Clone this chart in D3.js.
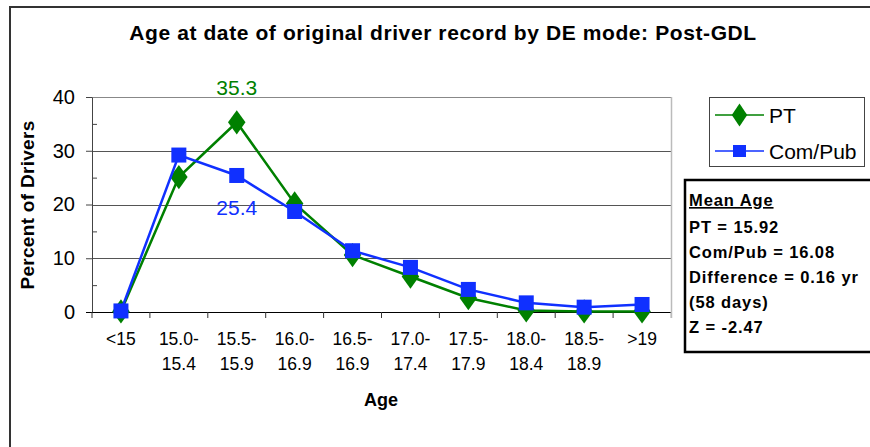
<!DOCTYPE html>
<html>
<head>
<meta charset="utf-8">
<script src="https://cdn.jsdelivr.net/npm/d3@7"></script>
<style>
  body { margin: 0; background: #fff; }
  svg { display: block; font-family: Arial, "Liberation Sans", sans-serif; }
</style>
</head>
<body>
<svg width="870" height="447"></svg>
<script>
// chart data
var categories = ["<15", "15.0-15.4", "15.5-15.9", "16.0-16.9", "16.5-16.9", "17.0-17.4", "17.5-17.9", "18.0-18.4", "18.5-18.9", ">19"];
var tickLabels = [["<15"], ["15.0-", "15.4"], ["15.5-", "15.9"], ["16.0-", "16.9"], ["16.5-", "16.9"], ["17.0-", "17.4"], ["17.5-", "17.9"], ["18.0-", "18.4"], ["18.5-", "18.9"], [">19"]];
var ptValues = [0.1, 25.1, 35.3, 20.2, 10.6, 6.6, 2.6, 0.3, 0.1, 0.1];
var comPubValues = [0.2, 29.2, 25.4, 18.7, 11.4, 8.3, 4.2, 1.7, 0.9, 1.4];
var yTicks = [0, 10, 20, 30, 40];
var yMinorTicks = [5, 15, 25, 35];
var seriesNames = ["PT", "Com/Pub"];
var statsLines = ["Mean Age", "PT = 15.92", "Com/Pub = 16.08", "Difference = 0.16 yr", "(58 days)", "Z = -2.47"];

var green = "#008000";
var blue = "#1030ff";

var svg = d3.select("svg");

// outer frame (runs off the right and bottom edge)
svg.append("path")
    .attr("d", "M10,460 L10,7 L880,7")
    .attr("fill", "none")
    .attr("stroke", "#333")
    .attr("stroke-width", 2);

svg.append("text")
    .attr("x", 443).attr("y", 40)
    .attr("text-anchor", "middle")
    .attr("font-size", "21px")
    .attr("font-weight", "bold")
    .attr("letter-spacing", "0.6px")
    .text("Age at date of original driver record by DE mode: Post-GDL");

var x = d3.scaleBand().domain(categories).range([92, 671]).padding(0);
var y = d3.scaleLinear().domain([0, 40]).range([312, 97]);
var cx = function (d, i) { return x(categories[i]) + x.bandwidth() / 2; };

// gridlines
svg.append("g").selectAll("line")
    .data(yTicks.filter(function (d) { return d > 0; }))
    .enter().append("line")
    .attr("x1", 92).attr("x2", 671)
    .attr("y1", function (d) { return Math.round(y(d)) + 0.5; })
    .attr("y2", function (d) { return Math.round(y(d)) + 0.5; })
    .attr("stroke", function (d) { return d === 40 ? "#888" : "#555"; })
    .attr("stroke-width", 1);

// plot right border
svg.append("line")
    .attr("x1", 671.5).attr("x2", 671.5).attr("y1", 97).attr("y2", 318)
    .attr("stroke", "#bbb").attr("stroke-width", 1.5);

// y axis
var yAxis = svg.append("g")
    .attr("transform", "translate(92,0)")
    .call(d3.axisLeft(y).tickValues(yTicks).tickSize(6).tickSizeOuter(0));
yAxis.select(".domain").attr("stroke", "#444");
yAxis.selectAll(".tick line").attr("stroke", "#444");
yAxis.selectAll(".tick text")
    .attr("x", -17)
    .attr("font-size", "20px")
    .attr("font-family", "Arial, 'Liberation Sans', sans-serif")
    .attr("fill", "#000");

svg.append("g")
    .attr("transform", "translate(92,0)")
    .call(d3.axisRight(y).tickValues(yMinorTicks).tickSize(5).tickFormat(""))
    .call(function (g) { g.select(".domain").remove(); })
    .selectAll(".tick line").attr("stroke", "#444");

// x axis line and ticks at band edges
svg.append("line")
    .attr("x1", 86).attr("x2", 671).attr("y1", 312.5).attr("y2", 312.5)
    .attr("stroke", "#000").attr("stroke-width", 1.2);
svg.append("g").selectAll("line")
    .data(categories.concat(["end"]))
    .enter().append("line")
    .attr("x1", function (d, i) { return i < categories.length ? x(d) : x.range()[1]; })
    .attr("x2", function (d, i) { return i < categories.length ? x(d) : x.range()[1]; })
    .attr("y1", 312).attr("y2", 318)
    .attr("stroke", function (d, i) { return i < categories.length ? "#333" : "#bbb"; });

var xt = svg.append("g").selectAll("text")
    .data(tickLabels)
    .enter().append("text")
    .attr("text-anchor", "middle")
    .attr("font-size", "17.5px");
xt.selectAll("tspan")
    .data(function (d, i) { return d.map(function (s) { return { s: s, i: i }; }); })
    .enter().append("tspan")
    .attr("x", function (d) { return cx(null, d.i); })
    .attr("y", function (d, j) { return 345 + j * 25; })
    .text(function (d) { return d.s; });

// axis titles
svg.append("text")
    .attr("x", 381).attr("y", 406)
    .attr("text-anchor", "middle")
    .attr("font-size", "18px").attr("font-weight", "bold")
    .text("Age");
svg.append("text")
    .attr("transform", "translate(34,205) rotate(-90)")
    .attr("text-anchor", "middle")
    .attr("font-size", "19px").attr("font-weight", "bold")
    .attr("letter-spacing", "0.3px")
    .text("Percent of Drivers");

// series lines
var line = d3.line().x(cx).y(function (d) { return y(d); });
var diamond = d3.symbol().type(d3.symbolDiamond).size(170);

svg.append("path").datum(ptValues)
    .attr("d", line).attr("fill", "none")
    .attr("stroke", green).attr("stroke-width", 2.5);
svg.append("g").selectAll("path")
    .data(ptValues).enter().append("path")
    .attr("d", diamond)
    .attr("transform", function (d, i) { return "translate(" + cx(d, i) + "," + y(d) + ") scale(1.25,1)"; })
    .attr("fill", green);

svg.append("path").datum(comPubValues)
    .attr("d", line).attr("fill", "none")
    .attr("stroke", blue).attr("stroke-width", 2.5);
svg.append("g").selectAll("rect")
    .data(comPubValues).enter().append("rect")
    .attr("x", function (d, i) { return cx(d, i) - 7.5; })
    .attr("y", function (d) { return y(d) - 7.5; })
    .attr("width", 15).attr("height", 15)
    .attr("fill", blue);

// data labels
svg.append("text")
    .attr("x", cx(null, 2)).attr("y", y(ptValues[2]) - 27)
    .attr("text-anchor", "middle").attr("font-size", "21px")
    .attr("fill", green).text(ptValues[2].toFixed(1));
svg.append("text")
    .attr("x", cx(null, 2)).attr("y", y(comPubValues[2]) + 40)
    .attr("text-anchor", "middle").attr("font-size", "21px")
    .attr("fill", blue).text(comPubValues[2].toFixed(1));

// legend
var legend = svg.append("g");
legend.append("rect")
    .attr("x", 709.5).attr("y", 97.5).attr("width", 155).attr("height", 69)
    .attr("fill", "#fff").attr("stroke", "#444").attr("stroke-width", 1);
var item = legend.selectAll("g.item")
    .data(seriesNames).enter().append("g")
    .attr("class", "item")
    .attr("transform", function (d, i) { return "translate(0," + (115 + i * 36) + ")"; });
item.append("line")
    .attr("x1", 715).attr("x2", 764).attr("y1", 0).attr("y2", 0)
    .attr("stroke", function (d, i) { return i === 0 ? green : blue; })
    .attr("stroke-width", 1.5);
item.each(function (d, i) {
    var g = d3.select(this);
    if (i === 0) {
        g.append("path").attr("d", diamond)
            .attr("transform", "translate(739.5,0) scale(1.1,0.95)")
            .attr("fill", green);
    } else {
        g.append("rect").attr("x", 733).attr("y", -6).attr("width", 13).attr("height", 12)
            .attr("fill", blue);
    }
});
item.append("text")
    .attr("x", 769).attr("y", 7.5)
    .attr("font-size", "21px")
    .text(function (d) { return d; });

// stats box
svg.append("rect")
    .attr("x", 685).attr("y", 180).attr("width", 200).attr("height", 172)
    .attr("fill", "#fff").attr("stroke", "#000").attr("stroke-width", 2.5);
svg.append("g").selectAll("text")
    .data(statsLines).enter().append("text")
    .attr("x", 689)
    .attr("y", function (d, i) { return i === 0 ? 206 : 208 + i * 25; })
    .attr("font-size", "16.5px").attr("font-weight", "bold")
    .attr("letter-spacing", "0.9px")
    .attr("text-decoration", function (d, i) { return i === 0 ? "underline" : null; })
    .text(function (d) { return d; });
</script>
</body>
</html>
